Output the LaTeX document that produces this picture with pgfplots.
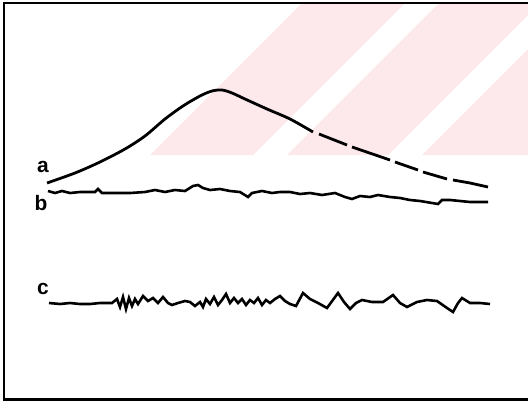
\documentclass[border=0pt]{standalone}
\usepackage{fontspec}
\setmainfont{Liberation Sans}
\usepackage{pgfplots}
\pgfplotsset{compat=1.18}
\definecolor{wm}{RGB}{253,232,236}
\begin{document}
\begin{tikzpicture}
\begin{axis}[
  scale only axis, width=528bp, height=406bp,
  xmin=0, xmax=528, ymin=0, ymax=406, y dir=reverse,
  axis line style={draw=none}, ticks=none,
  clip=true,
]
% watermark stripes
\addplot[fill=wm, draw=none] coordinates {(150,155) (253,155) (405,3) (302,3)} -- cycle;
\addplot[fill=wm, draw=none] coordinates {(287,155) (388,155) (540,3) (439,3)} -- cycle;
\addplot[fill=wm, draw=none] coordinates {(422,155) (528,155) (528,49)} -- cycle;
% frame
\addplot[black, line width=3pt] coordinates {(530,3) (4,3) (4,399) (530,399)};
% curve a
\addplot[black, line width=2.8pt, smooth, tension=0.5] coordinates {
(47,183) (75,173) (100,162) (125,149) (145,136) (165,119) (183,106) (200,96) (212,91) (222,90) (232,93) (245,99) (267,109) (290,119) (313,132)};
\addplot[black, line width=2.8pt] coordinates {(319,134) (347,145)};
\addplot[black, line width=2.8pt] coordinates {(352,147) (390,160)};
\addplot[black, line width=2.8pt] coordinates {(395,162) (418,170)};
\addplot[black, line width=2.8pt] coordinates {(423,172) (447,179)};
\addplot[black, line width=2.8pt] coordinates {(453,180) (470,183) (488,187)};
% curve b
\addplot[black, line width=2.6pt] coordinates {
(48,191) (55,193) (62,191) (70,193) (80,192) (95,192) (98,189) (102,193) (115,193) (130,193) (145,192) (155,190) (165,192) (175,190) (185,191) (193,186) (198,185) (203,188) (210,190) (220,189) (230,191) (240,192) (248,197) (252,193) (262,191) (272,193) (280,192) (290,192) (300,194) (310,193) (322,195) (335,193) (345,197) (352,199) (360,196) (370,197) (378,195) (390,197) (400,198) (410,200) (420,201) (432,203) (438,204) (442,200) (450,200) (460,201) (470,202) (488,202)};
% curve c
\addplot[black, line width=2.6pt] coordinates {
(49,303) (60,304) (70,303) (80,304) (90,304) (100,303) (112,303) (117,299) (120,307) (123,297) (126,309) (129,298) (132,306) (135,299) (138,304) (143,296) (148,301) (153,298) (158,303) (163,297) (168,303) (172,305) (178,303) (185,301) (190,302) (195,306) (200,302) (203,307) (206,299) (210,304) (214,297) (218,305) (222,300) (226,294) (230,303) (234,298) (238,303) (242,299) (246,305) (250,300) (254,303) (258,298) (262,305) (266,300) (270,303) (275,299) (280,296) (285,301) (290,304) (296,306) (303,293) (310,299) (318,303) (327,308) (338,293) (344,302) (350,309) (356,303) (362,300) (372,302) (383,302) (393,295) (400,303) (407,307) (417,302) (427,300) (437,301) (447,308) (453,312) (458,303) (462,298) (470,303) (480,303) (490,304)};
% labels
\node[font=\fontsize{21}{21}\selectfont\bfseries] at (axis cs:43,167) {a};
\node[font=\fontsize{21}{21}\selectfont\bfseries] at (axis cs:41,203) {b};
\node[font=\fontsize{21}{21}\selectfont\bfseries] at (axis cs:43,289) {c};
\end{axis}
\end{tikzpicture}
\end{document}
